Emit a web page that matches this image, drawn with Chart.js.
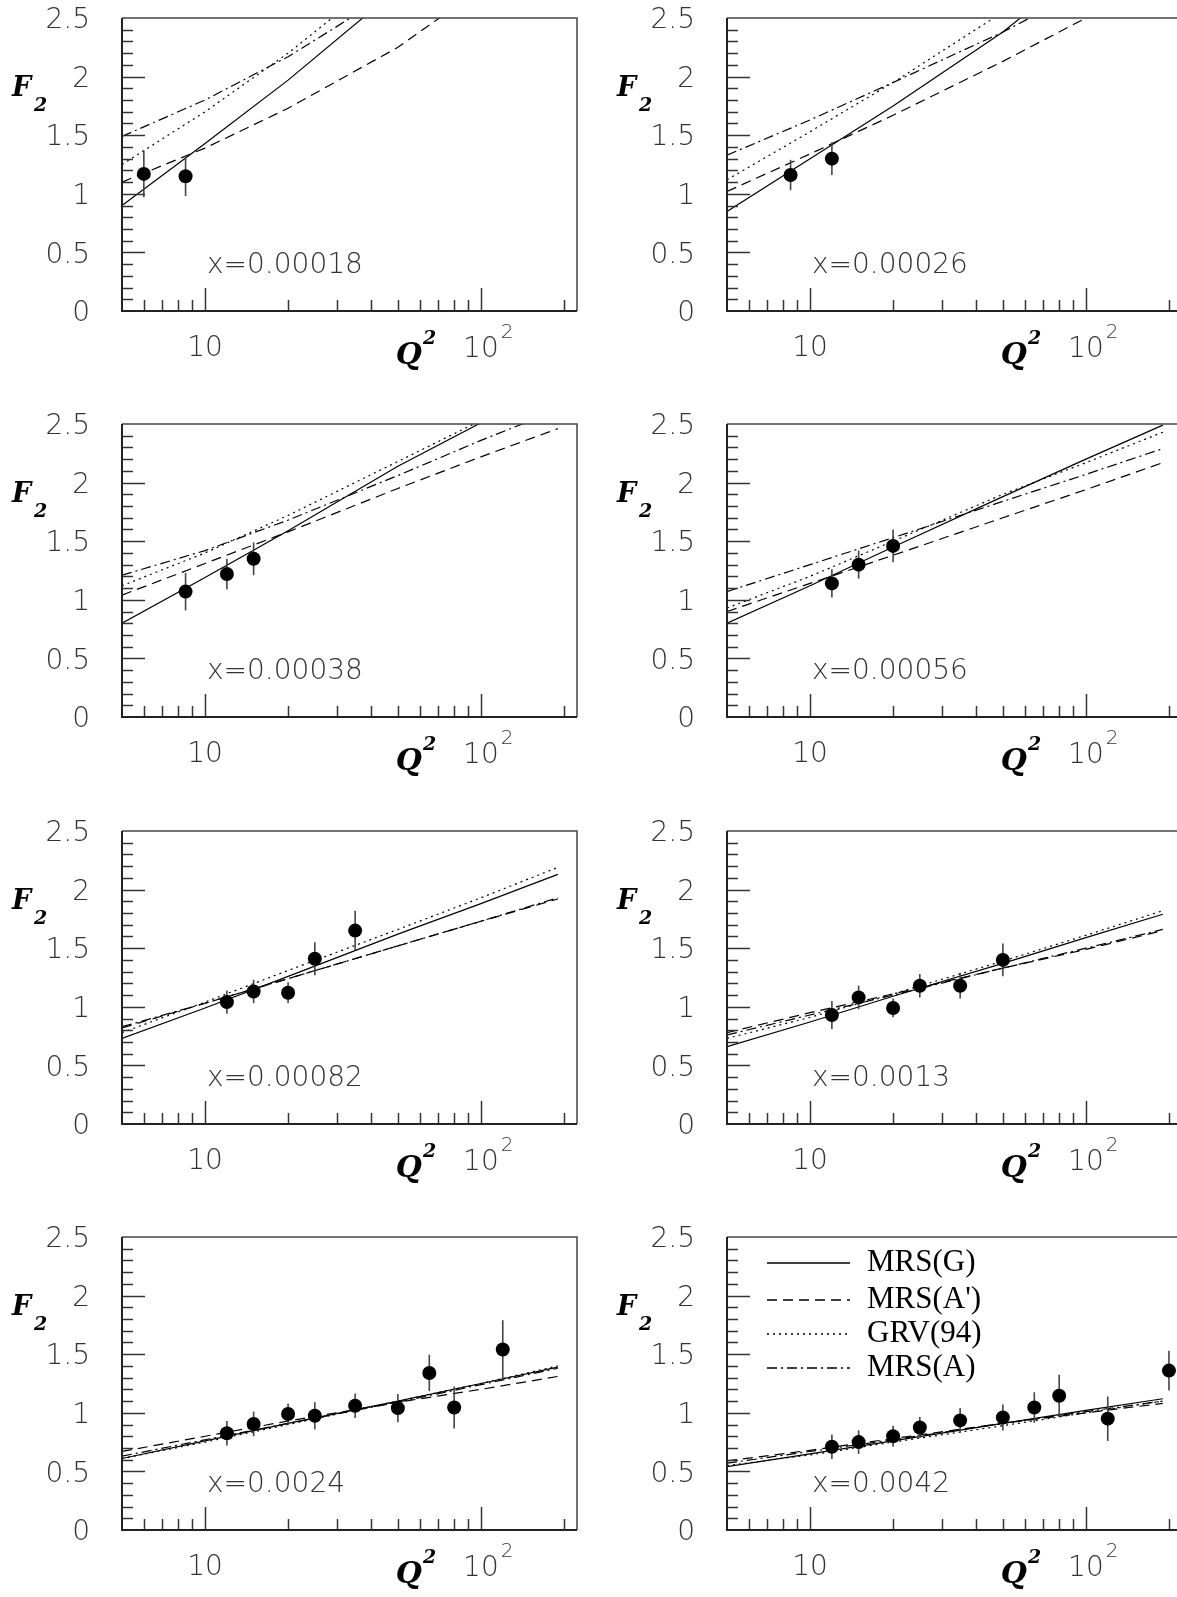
<!DOCTYPE html>
<html>
<head>
<meta charset="utf-8">
<script src="https://cdn.jsdelivr.net/npm/chart.js@4.4.1/dist/chart.umd.min.js"></script>
<style>
  html, body { margin: 0; padding: 0; background: #fff; }
  body { width: 1177px; height: 1597px; position: relative; overflow: hidden; }
  canvas { position: absolute; }
</style>
</head>
<body>
<script>
// Panel labels (Bjorken x)
const panelLabels = ['x=0.00018', 'x=0.00026', 'x=0.00038', 'x=0.00056',
                     'x=0.00082', 'x=0.0013', 'x=0.0024', 'x=0.0042'];

// Measured points: Q2, F2 and error per panel
const pointQ2 = [
    [6, 8.5],
    [8.5, 12],
    [8.5, 12, 15],
    [12, 15, 20],
    [12, 15, 20, 25, 35],
    [12, 15, 20, 25, 35, 50],
    [12, 15, 20, 25, 35, 50, 65, 80, 120],
    [12, 15, 20, 25, 35, 50, 65, 80, 120, 200]
];
const pointF2 = [
    [1.17, 1.15],
    [1.16, 1.30],
    [1.07, 1.22, 1.35],
    [1.14, 1.30, 1.46],
    [1.04, 1.13, 1.12, 1.41, 1.65],
    [0.93, 1.08, 0.99, 1.18, 1.18, 1.40],
    [0.825, 0.905, 0.99, 0.975, 1.06, 1.04, 1.34, 1.045, 1.54],
    [0.71, 0.75, 0.80, 0.875, 0.935, 0.96, 1.045, 1.145, 0.95, 1.36]
];
const pointErr = [
    [0.20, 0.17],
    [0.13, 0.14],
    [0.16, 0.13, 0.14],
    [0.12, 0.12, 0.14],
    [0.10, 0.10, 0.09, 0.14, 0.17],
    [0.12, 0.10, 0.08, 0.10, 0.11, 0.14],
    [0.105, 0.105, 0.09, 0.115, 0.105, 0.12, 0.155, 0.18, 0.25],
    [0.105, 0.10, 0.09, 0.09, 0.105, 0.11, 0.13, 0.18, 0.19, 0.17]
];

// Theory curves, sampled at curveQ2
const curveQ2 = [5, 10, 20, 50, 100, 190];
const mrsG = [
    [0.90, 1.43, 1.97, 2.75, 3.30, 3.80],
    [0.85, 1.30, 1.75, 2.38, 2.95, 3.40],
    [0.80, 1.19, 1.59, 2.14, 2.51, 2.90],
    [0.80, 1.12, 1.45, 1.88, 2.20, 2.49],
    [0.73, 0.99, 1.26, 1.62, 1.88, 2.13],
    [0.66, 0.87, 1.09, 1.37, 1.59, 1.79],
    [0.61, 0.76, 0.91, 1.10, 1.25, 1.39],
    [0.54, 0.65, 0.76, 0.91, 1.02, 1.12]
];
const mrsAprime = [
    [1.10, 1.39, 1.73, 2.25, 2.75, 3.20],
    [1.02, 1.34, 1.67, 2.13, 2.50, 2.85],
    [1.04, 1.31, 1.58, 1.95, 2.22, 2.46],
    [0.90, 1.14, 1.38, 1.70, 1.94, 2.17],
    [0.82, 1.03, 1.24, 1.52, 1.73, 1.92],
    [0.78, 0.95, 1.11, 1.33, 1.49, 1.65],
    [0.67, 0.80, 0.93, 1.09, 1.20, 1.31],
    [0.59, 0.68, 0.78, 0.91, 1.00, 1.08]
];
const grv94 = [
    [1.25, 1.70, 2.20, 2.95, 3.50, 4.00],
    [1.12, 1.53, 1.95, 2.55, 3.00, 3.50],
    [1.12, 1.40, 1.72, 2.18, 2.53, 2.85],
    [0.93, 1.20, 1.50, 1.90, 2.17, 2.43],
    [0.78, 1.04, 1.31, 1.66, 1.93, 2.19],
    [0.73, 0.91, 1.11, 1.39, 1.61, 1.82],
    [0.61, 0.75, 0.90, 1.10, 1.25, 1.40],
    [0.55, 0.64, 0.75, 0.89, 1.00, 1.10]
];
const mrsA = [
    [1.49, 1.80, 2.17, 2.75, 3.20, 3.60],
    [1.33, 1.63, 1.95, 2.38, 2.75, 3.10],
    [1.21, 1.42, 1.68, 2.06, 2.36, 2.62],
    [1.07, 1.30, 1.53, 1.84, 2.07, 2.29],
    [0.83, 1.03, 1.24, 1.52, 1.73, 1.93],
    [0.76, 0.93, 1.10, 1.33, 1.50, 1.66],
    [0.63, 0.77, 0.91, 1.09, 1.24, 1.38],
    [0.57, 0.67, 0.77, 0.91, 1.01, 1.10]
];

const curveNames = ['MRS(G)', "MRS(A')", 'GRV(94)', 'MRS(A)'];
const curveDashes = [[], [10, 6], [2, 4], [10, 4, 2, 4]];

// Axis
const yMin = 0, yMax = 2.5;
const yLabelTicks = [0, 0.5, 1, 1.5, 2, 2.5];
const xMin = 5, xMax = 223;
const xMajorTicks = [10, 100];
const xMinorTicks = [6, 7, 8, 9, 20, 30, 40, 50, 60, 70, 80, 90, 200];

const labelFont = '200 28px "DejaVu Sans"';
const textColor = '#333';

function pairs(xs, ys) {
    return xs.map((q, i) => ({ x: q, y: ys[i] }));
}

const errorBarPlugin = {
    id: 'errorBars',
    beforeDatasetDraw(chart, args) {
        if (args.index !== 0) return;
        const { ctx, scales: { x, y } } = chart;
        const p = chart.options.plugins.errorBars.panel;
        ctx.save();
        ctx.strokeStyle = '#444';
        ctx.lineWidth = 1.6;
        pointQ2[p].forEach((q, i) => {
            const px = x.getPixelForValue(q);
            ctx.beginPath();
            ctx.moveTo(px, y.getPixelForValue(pointF2[p][i] - pointErr[p][i]));
            ctx.lineTo(px, y.getPixelForValue(pointF2[p][i] + pointErr[p][i]));
            ctx.stroke();
        });
        ctx.restore();
    }
};

const framePlugin = {
    id: 'frame',
    afterDraw(chart) {
        const { ctx, chartArea: a, scales: { x, y } } = chart;
        const p = chart.options.plugins.errorBars.panel;
        ctx.save();

        // ticks drawn inside the frame
        ctx.strokeStyle = '#333';
        ctx.lineWidth = 1.5;
        for (let i = 1; i < 25; i++) {
            const py = Math.round(y.getPixelForValue(i / 10)) + 0.5;
            const len = i % 5 === 0 ? 23 : 11;
            ctx.beginPath();
            ctx.moveTo(a.left, py);
            ctx.lineTo(a.left + len, py);
            ctx.stroke();
        }
        xMinorTicks.concat(xMajorTicks).forEach(v => {
            const px = Math.round(x.getPixelForValue(v)) + 0.5;
            const len = xMajorTicks.includes(v) ? 23 : 11;
            ctx.beginPath();
            ctx.moveTo(px, a.bottom);
            ctx.lineTo(px, a.bottom - len);
            ctx.stroke();
        });

        // frame
        ctx.strokeStyle = '#444';
        ctx.lineWidth = 1.5;
        ctx.beginPath();
        ctx.moveTo(a.left, a.top);
        ctx.lineTo(a.right, a.top);
        ctx.lineTo(a.right, a.bottom);
        ctx.stroke();
        ctx.strokeStyle = '#222';
        ctx.lineWidth = 2;
        ctx.beginPath();
        ctx.moveTo(a.left, a.top);
        ctx.lineTo(a.left, a.bottom);
        ctx.lineTo(a.right, a.bottom);
        ctx.stroke();

        // y tick labels
        ctx.fillStyle = textColor;
        ctx.font = labelFont;
        ctx.textAlign = 'right';
        ctx.textBaseline = 'middle';
        yLabelTicks.forEach(v => {
            ctx.fillText(String(v), a.left - 32, y.getPixelForValue(v) + 3);
        });

        // x tick labels
        ctx.textAlign = 'center';
        const p10 = x.getPixelForValue(10);
        const p100 = x.getPixelForValue(100);
        ctx.fillText('10', p10, a.bottom + 38);
        ctx.fillText('10', p100, a.bottom + 39);
        const w10 = ctx.measureText('10').width;
        ctx.font = '200 20px "DejaVu Sans"';
        ctx.textAlign = 'left';
        ctx.fillText('2', p100 + w10 / 2 + 2, a.bottom + 22);

        // axis titles
        ctx.fillStyle = '#000';
        ctx.font = 'bold italic 30px "DejaVu Serif"';
        ctx.textAlign = 'center';
        const qx = p100 - 72;
        ctx.fillText('Q', qx, a.bottom + 45);
        const qw = ctx.measureText('Q').width;
        ctx.font = 'bold italic 19px "DejaVu Serif"';
        ctx.textAlign = 'left';
        ctx.fillText('2', qx + qw / 2 + 1, a.bottom + 28);

        ctx.font = 'bold italic 27px "DejaVu Serif"';
        ctx.fillText('F', a.left - 110, a.top + 71);
        ctx.font = 'bold italic 19px "DejaVu Serif"';
        ctx.fillText('2', a.left - 88, a.top + 88);

        // panel label
        ctx.fillStyle = textColor;
        ctx.font = labelFont;
        ctx.fillText(panelLabels[p], a.left + 85, a.bottom - 45);

        // legend in the last panel
        if (p === 7) {
            const rows = [26, 63, 97, 131];
            chart.data.datasets.slice(1).forEach((ds, i) => {
                const ly = a.top + rows[i];
                ctx.strokeStyle = '#000';
                ctx.lineWidth = 1.3;
                ctx.setLineDash(ds.borderDash || []);
                ctx.beginPath();
                ctx.moveTo(a.left + 40, ly);
                ctx.lineTo(a.left + 123, ly);
                ctx.stroke();
                ctx.setLineDash([]);
                ctx.fillStyle = '#000';
                ctx.font = '31px "Liberation Serif"';
                ctx.textBaseline = 'middle';
                ctx.fillText(ds.label, a.left + 140, ly);
            });
        }
        ctx.restore();
    }
};

const curveSets = [mrsG, mrsAprime, grv94, mrsA];

function drawPanel(p) {
    const col = p % 2;
    const row = Math.floor(p / 2);
    const canvasLeft = col === 0 ? 0 : 600;
    const canvasWidth = col === 0 ? 600 : 590;
    const plotLeft = col === 0 ? 122 : 727;
    const plotWidth = 455;

    const canvas = document.createElement('canvas');
    canvas.width = canvasWidth;
    canvas.height = 406;
    canvas.style.left = canvasLeft + 'px';
    canvas.style.top = Math.round(row * 406.33) + 'px';
    canvas.style.width = canvasWidth + 'px';
    canvas.style.height = '406px';
    document.body.appendChild(canvas);

    const datasets = [{
        type: 'scatter',
        label: 'data',
        data: pairs(pointQ2[p], pointF2[p]),
        pointRadius: 7,
        pointStyle: 'circle',
        backgroundColor: '#000',
        borderColor: '#000',
        borderWidth: 0
    }];
    curveSets.forEach((set, i) => {
        datasets.push({
            type: 'line',
            label: curveNames[i],
            data: pairs(curveQ2, set[p]),
            borderColor: '#000',
            borderWidth: 1.2,
            borderDash: curveDashes[i],
            pointRadius: 0,
            tension: 0,
            fill: false
        });
    });

    new Chart(canvas.getContext('2d'), {
        data: { datasets },
        options: {
            responsive: false,
            animation: false,
            devicePixelRatio: 1,
            layout: {
                padding: {
                    left: plotLeft - canvasLeft,
                    top: 18,
                    right: canvasWidth - (plotLeft - canvasLeft + plotWidth),
                    bottom: 95
                }
            },
            scales: {
                x: { type: 'logarithmic', min: xMin, max: xMax, display: false },
                y: { type: 'linear', min: yMin, max: yMax, display: false }
            },
            plugins: {
                legend: { display: false },
                tooltip: { enabled: false },
                errorBars: { panel: p }
            }
        },
        plugins: [errorBarPlugin, framePlugin]
    });
}

for (let p = 0; p < 8; p++) {
    drawPanel(p);
}
</script>
</body>
</html>
